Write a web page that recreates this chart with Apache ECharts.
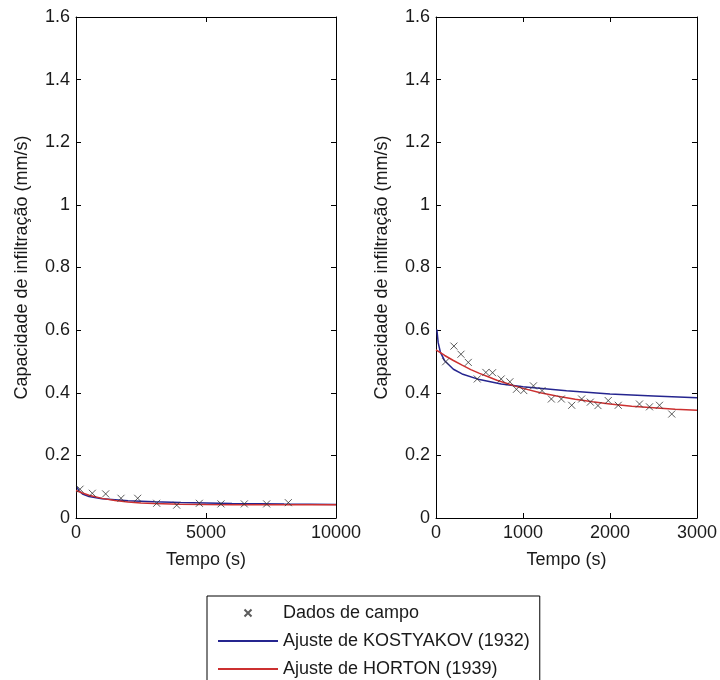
<!DOCTYPE html>
<html>
<head>
<meta charset="utf-8">
<script src="https://cdn.jsdelivr.net/npm/echarts@6/dist/echarts.min.js"></script>
<style>
html,body{margin:0;padding:0;background:#fff;}
#chart{width:720px;height:680px;}
</style>
</head>
<body>
<div id="chart"></div>
<script>
// ---- Left panel: field data (Tempo s, capacidade mm/s)
var leftDataT = [154, 628, 1141, 1731, 2372, 3103, 3872, 4744, 5577, 6474, 7333, 8166];
var leftDataF = [0.092, 0.079, 0.077, 0.063, 0.063, 0.047, 0.041, 0.047, 0.045, 0.045, 0.045, 0.049];
// Left panel: fitted curves
var leftKostT = [50, 100, 250, 500, 1000, 2000, 3000, 4000, 5000, 6000, 7000, 8000, 9000, 10000];
var leftKostF = [0.098, 0.088, 0.0765, 0.0686, 0.0616, 0.0553, 0.0519, 0.0496, 0.0479, 0.0466, 0.0455, 0.0445, 0.0437, 0.043];
var leftHortT = [0, 250, 500, 1000, 1500, 2000, 2500, 3000, 4000, 5000, 6000, 8000, 10000];
var leftHortF = [0.088, 0.0797, 0.0728, 0.0627, 0.0559, 0.0513, 0.0482, 0.0462, 0.0439, 0.0428, 0.0424, 0.0421, 0.042];

// ---- Right panel: field data
var rightDataT = [111, 206, 287, 371, 474, 573, 650, 749, 849, 925, 1009, 1120, 1219, 1326, 1441, 1560, 1674, 1774, 1862, 1980, 2095, 2339, 2454, 2569, 2710];
var rightDataF = [0.499, 0.549, 0.523, 0.497, 0.444, 0.465, 0.464, 0.444, 0.435, 0.411, 0.407, 0.422, 0.407, 0.380, 0.380, 0.360, 0.380, 0.370, 0.359, 0.375, 0.360, 0.364, 0.355, 0.360, 0.332];
// Right panel: fitted curves
var rightKostT = [10, 25, 50, 100, 200, 300, 500, 750, 1000, 1500, 2000, 2500, 3000];
var rightKostF = [0.602, 0.560, 0.530, 0.502, 0.475, 0.460, 0.442, 0.428, 0.419, 0.406, 0.396, 0.390, 0.384];
var rightHortT = [0, 50, 100, 200, 300, 400, 500, 600, 700, 800, 900, 1000, 1200, 1400, 1600, 1800, 2000, 2250, 2500, 2750, 3000];
var rightHortF = [0.537, 0.528, 0.519, 0.503, 0.488, 0.474, 0.462, 0.451, 0.440, 0.431, 0.422, 0.414, 0.400, 0.389, 0.379, 0.371, 0.364, 0.357, 0.352, 0.347, 0.344];

// axis settings
var yMin = 0, yMax = 1.6, yStep = 0.2;
var leftXMax = 10000, leftXStep = 5000;
var rightXMax = 3000, rightXStep = 1000;

var names = {
  data: 'Dados de campo',
  kost: 'Ajuste de KOSTYAKOV (1932)',
  hort: 'Ajuste de HORTON (1939)'
};
var yTitle = 'Capacidade de infiltração (mm/s)';
var xTitle = 'Tempo (s)';

function pairs(a, b) { return a.map(function (v, i) { return [v, b[i]]; }); }

var FONT = 'Liberation Sans, Arial, sans-serif';
var FS = 18;
var TXT = '#1a1a1a';
var blue = '#25258f';
var red = '#cc3030';
var crossPath = 'path://M0,0L10,10M10,0L0,10';

function xAxes(grid, max, step) {
  var common = {
    gridIndex: grid, type: 'value', min: 0, max: max, interval: step,
    splitLine: {show: false},
    axisLine: {show: true, onZero: false, lineStyle: {color: '#000', width: 1}},
    axisTick: {show: true, inside: true, length: 5, lineStyle: {color: '#000'}}
  };
  var bottom = Object.assign({}, common, {
    position: 'bottom',
    name: xTitle, nameLocation: 'middle', nameGap: 33,
    nameTextStyle: {fontFamily: FONT, fontSize: FS, color: TXT},
    axisLabel: {show: true, margin: 6, fontFamily: FONT, fontSize: FS, color: TXT,
      formatter: function (v) { return String(v); }}
  });
  var top = Object.assign({}, common, {position: 'top', axisLabel: {show: false}});
  return [bottom, top];
}
function yAxes(grid) {
  var common = {
    gridIndex: grid, type: 'value', min: yMin, max: yMax, interval: yStep,
    splitLine: {show: false},
    axisLine: {show: true, onZero: false, lineStyle: {color: '#000', width: 1}},
    axisTick: {show: true, inside: true, length: 5, lineStyle: {color: '#000'}}
  };
  var left = Object.assign({}, common, {
    position: 'left',
    name: yTitle, nameLocation: 'middle', nameGap: 45, nameRotate: 90,
    nameTextStyle: {fontFamily: FONT, fontSize: FS, color: TXT},
    axisLabel: {show: true, margin: 6, fontFamily: FONT, fontSize: FS, color: TXT,
      formatter: function (v) { return String(Math.round(v * 10) / 10); }}
  });
  var right = Object.assign({}, common, {position: 'right', axisLabel: {show: false}});
  return [left, right];
}

var xa = xAxes(0, leftXMax, leftXStep).concat(xAxes(1, rightXMax, rightXStep));
var ya = yAxes(0).concat(yAxes(1));

function scatter(xi, yi, t, f) {
  return {
    type: 'scatter', name: names.data, xAxisIndex: xi, yAxisIndex: yi,
    data: pairs(t, f), symbol: crossPath, symbolSize: 7, symbolKeepAspect: true,
    itemStyle: {color: 'rgba(0,0,0,0)', borderColor: '#333', borderWidth: 1},
    z: 5, silent: true
  };
}
function line(name, xi, yi, t, f, color) {
  return {
    type: 'line', name: name, xAxisIndex: xi, yAxisIndex: yi,
    data: pairs(t, f), showSymbol: false, symbol: 'none', smooth: false,
    lineStyle: {color: color, width: 1.5}, itemStyle: {color: color},
    z: 3, silent: true
  };
}

var chart = echarts.init(document.getElementById('chart'), null, {renderer: 'canvas'});
chart.setOption({
  backgroundColor: '#fff',
  animation: false,
  grid: [
    {left: 76, top: 17, width: 260, height: 501},
    {left: 436, top: 17, width: 261, height: 501}
  ],
  xAxis: xa,
  yAxis: ya,
  legend: {
    orient: 'vertical', left: 207, top: 596, height: 110,
    backgroundColor: '#fff', borderColor: '#000', borderWidth: 1, borderRadius: 0,
    padding: [8, 10, 8, 10], itemGap: 10, itemWidth: 60, itemHeight: 7,
    textStyle: {fontFamily: FONT, fontSize: FS, color: TXT},
    data: [
      {name: names.data},
      {name: names.kost, itemStyle: {opacity: 0}},
      {name: names.hort, itemStyle: {opacity: 0}}
    ]
  },
  series: [
    scatter(0, 0, leftDataT, leftDataF),
    line(names.kost, 0, 0, leftKostT, leftKostF, blue),
    line(names.hort, 0, 0, leftHortT, leftHortF, red),
    scatter(2, 2, rightDataT, rightDataF),
    line(names.kost, 2, 2, rightKostT, rightKostF, blue),
    line(names.hort, 2, 2, rightHortT, rightHortF, red)
  ]
});
</script>
</body>
</html>
